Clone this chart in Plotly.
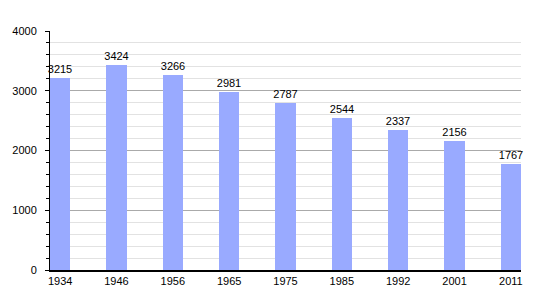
import plotly.graph_objects as go

years = ["1934", "1946", "1956", "1965", "1975", "1985", "1992", "2001", "2011"]
population = [3215, 3424, 3266, 2981, 2787, 2544, 2337, 2156, 1767]
y_ticks = [0, 1000, 2000, 3000, 4000]

fig = go.Figure()
fig.add_trace(go.Bar(
    x=years, y=population,
    width=0.36,
    marker=dict(color="#99aaff", line=dict(width=0)),
    text=[str(v) for v in population],
    textposition="outside",
    constraintext="none",
    cliponaxis=False,
    textfont=dict(family="Liberation Sans, Arial, sans-serif", size=11, color="#000000"),
))

fig.update_layout(
    width=550, height=300,
    margin=dict(l=50, r=29, t=31, b=30),
    paper_bgcolor="white", plot_bgcolor="white",
    showlegend=False,
    bargap=0,
    font=dict(family="Liberation Sans, Arial, sans-serif", size=11, color="#000000"),
    xaxis=dict(
        type="category",
        range=[-0.18, 8.18],
        showline=True, linecolor="#000000", linewidth=1.5,
        showgrid=False, ticks="", tickfont=dict(size=11),
    ),
    yaxis=dict(
        range=[0, 4000],
        tickvals=y_ticks,
        showline=True, linecolor="#000000", linewidth=1,
        showgrid=True, gridcolor="#aaaaaa", gridwidth=1,
        ticks="outside", ticklen=4, tickcolor="#000000",
        ticklabelstandoff=6,
        tickfont=dict(size=11),
        zeroline=False,
        minor=dict(dtick=200, showgrid=True, gridcolor="#e2e2e2", gridwidth=1,
                   ticks="outside", ticklen=3, tickcolor="#000000"),
    ),
)

fig.write_html("out.html")
